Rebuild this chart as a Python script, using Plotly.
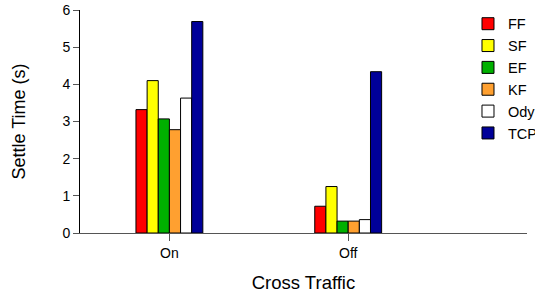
import plotly.graph_objects as go

categories = ["On", "Off"]
series_names = ["FF", "SF", "EF", "KF", "Ody", "TCP"]
series_values = {
    "FF": [3.32, 0.72],
    "SF": [4.10, 1.25],
    "EF": [3.07, 0.32],
    "KF": [2.78, 0.32],
    "Ody": [3.63, 0.36],
    "TCP": [5.69, 4.34],
}
colors = {
    "FF": "#FF0000",
    "SF": "#FFFF00",
    "EF": "#00B000",
    "KF": "#FFA030",
    "Ody": "#FFFFFF",
    "TCP": "#000099",
}
y_ticks = [0, 1, 2, 3, 4, 5, 6]

fig = go.Figure()
for name in series_names:
    fig.add_trace(go.Bar(
        x=categories, y=series_values[name], name=name,
        legendgroup=name,
        marker=dict(color=colors[name], line=dict(color="#000000", width=1)),
    ))

font = "Liberation Sans, Arial, sans-serif"
fig.update_layout(
    width=535, height=297,
    margin=dict(l=80, r=8, t=10, b=64, autoexpand=False),
    paper_bgcolor="white", plot_bgcolor="white",
    barmode="group", bargap=0.626, bargroupgap=0,
    font=dict(family=font, size=14, color="#000000"),
    showlegend=True,
    legend=dict(x=0.868, y=1.01, xanchor="left", yanchor="top",
                traceorder="grouped", tracegroupgap=0,
                font=dict(size=14.5), bgcolor="rgba(0,0,0,0)", borderwidth=0),
    xaxis=dict(
        type="category", range=[-0.5, 2.0],
        showline=True, linecolor="#555555", linewidth=1,
        ticks="outside", ticklen=7, tickcolor="#555555",
        tickfont=dict(size=14),
        showgrid=False, zeroline=False,
        title=dict(text="Cross Traffic", font=dict(size=18.5), standoff=16),
    ),
    yaxis=dict(
        range=[0, 6], tickvals=y_ticks,
        showline=True, linecolor="#000000", linewidth=1,
        ticks="outside", ticklen=6, tickcolor="#555555",
        tickfont=dict(size=14),
        showgrid=False, zeroline=False,
        title=dict(text="Settle Time (s)", font=dict(size=18), standoff=32),
    ),
)
fig.write_html("out.html", config={"displayModeBar": False},
               post_script="document.body.style.margin='0px';")
